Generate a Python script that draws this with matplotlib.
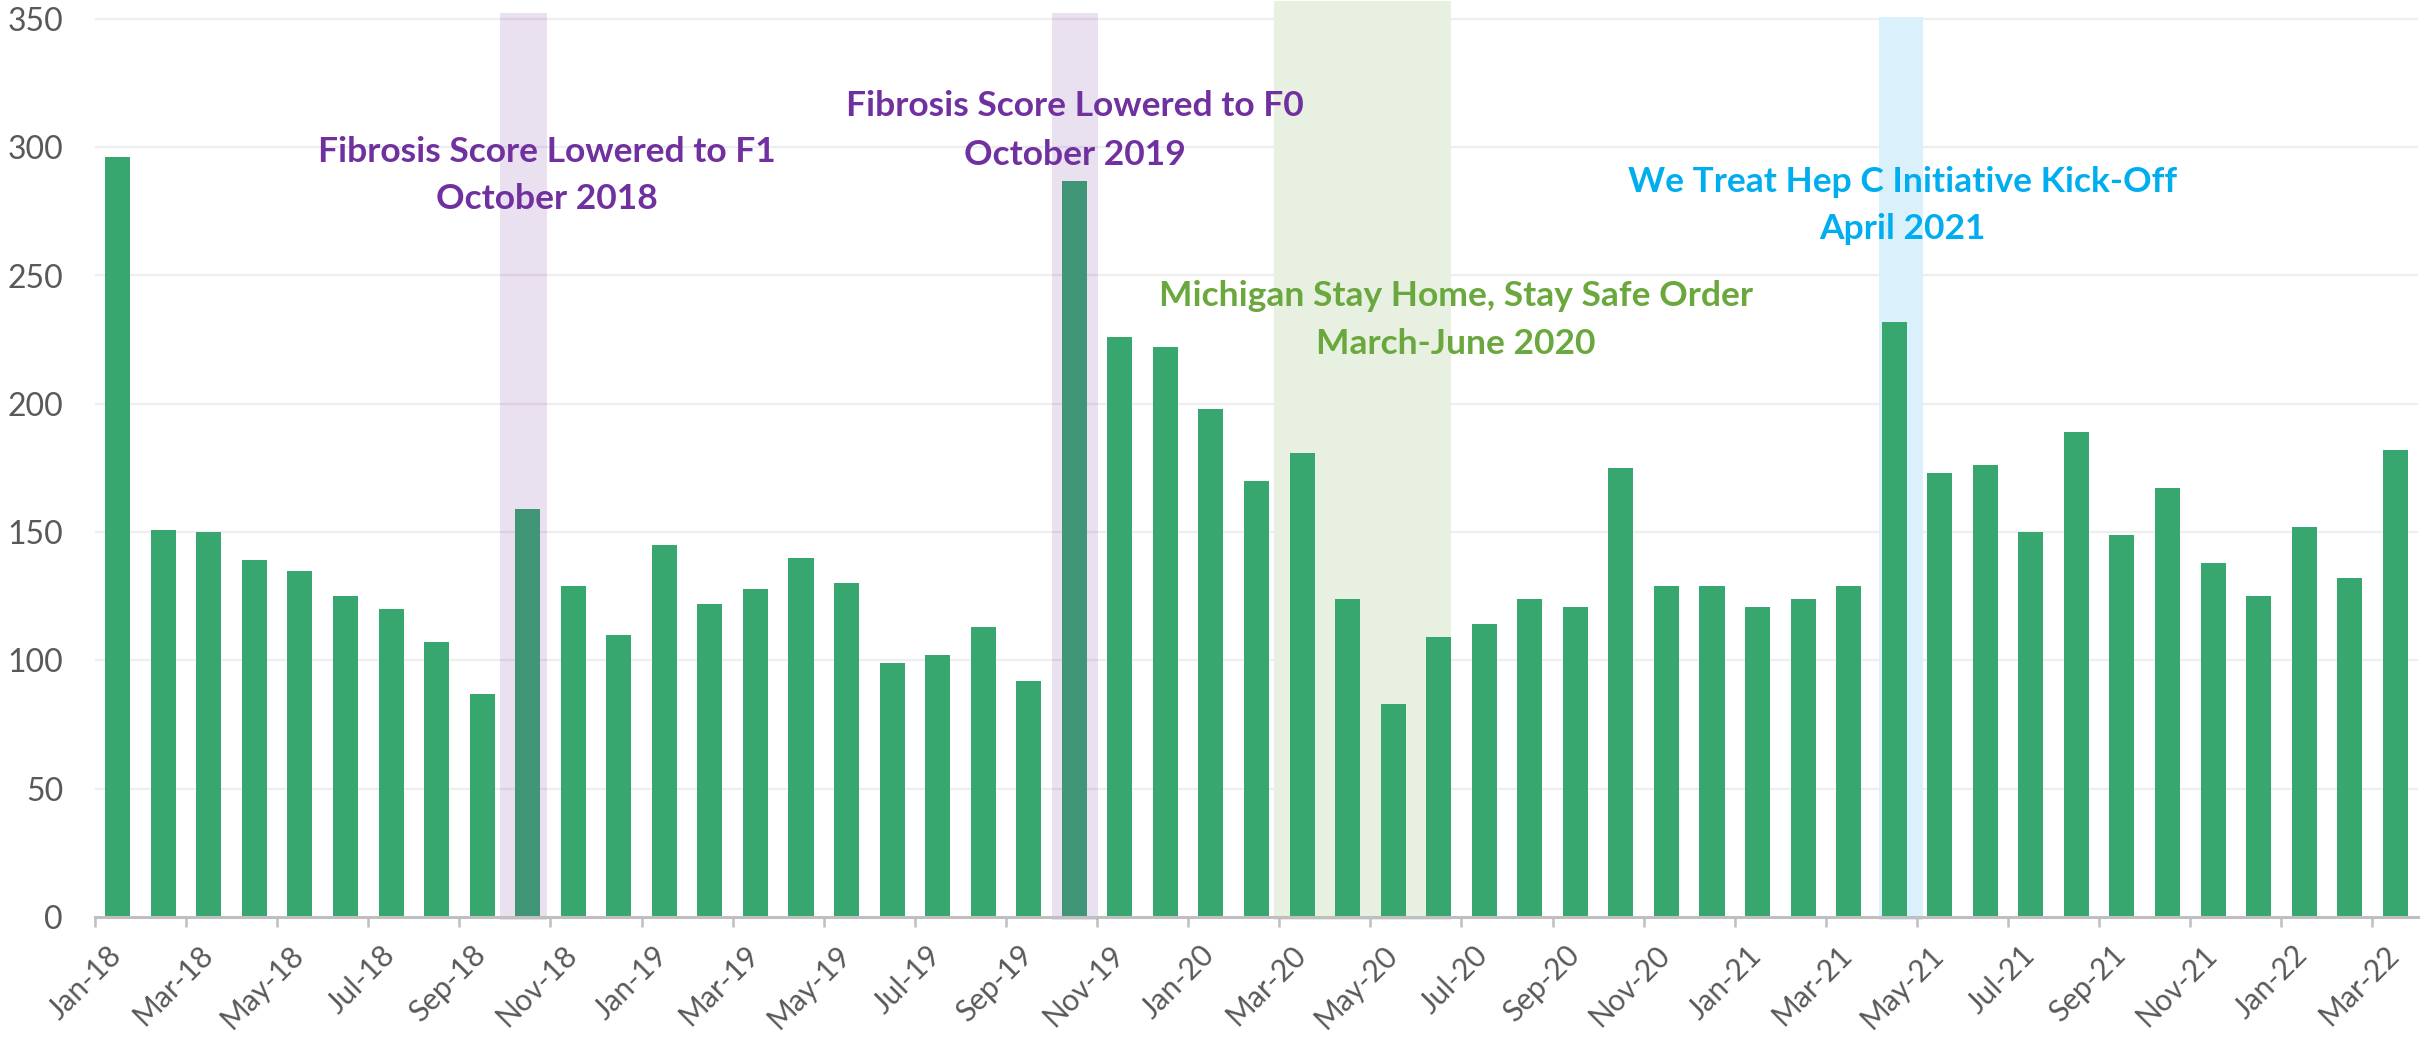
import matplotlib
matplotlib.use("Agg")
import matplotlib.pyplot as plt
from matplotlib import font_manager
import matplotlib.transforms as mtransforms
import numpy as np

# ---------------- data ----------------
months = ["Jan-18","Feb-18","Mar-18","Apr-18","May-18","Jun-18","Jul-18","Aug-18","Sep-18","Oct-18","Nov-18","Dec-18",
          "Jan-19","Feb-19","Mar-19","Apr-19","May-19","Jun-19","Jul-19","Aug-19","Sep-19","Oct-19","Nov-19","Dec-19",
          "Jan-20","Feb-20","Mar-20","Apr-20","May-20","Jun-20","Jul-20","Aug-20","Sep-20","Oct-20","Nov-20","Dec-20",
          "Jan-21","Feb-21","Mar-21","Apr-21","May-21","Jun-21","Jul-21","Aug-21","Sep-21","Oct-21","Nov-21","Dec-21",
          "Jan-22","Feb-22","Mar-22"]
values = [296, 151, 150, 139, 135, 125, 120, 107, 87, 159, 129, 110,
          145, 122, 128, 140, 130, 99, 102, 113, 92, 287, 226, 222,
          198, 170, 181, 124, 83, 109, 114, 124, 121, 175, 129, 129,
          121, 124, 129, 232, 173, 176, 150, 189, 149, 167, 138, 125,
          152, 132, 182]

# highlighted periods: (first month, last month)
highlight_periods = [("Oct-18", "Oct-18"), ("Oct-19", "Oct-19"), ("Mar-20", "Jun-20"), ("Apr-21", "Apr-21")]

annotation_lines = [
    ["Fibrosis Score Lowered to F1", "October 2018"],
    ["Fibrosis Score Lowered to F0", "October 2019"],
    ["Michigan Stay Home, Stay Safe Order", "March-June 2020"],
    ["We Treat Hep C Initiative Kick-Off", "April 2021"],
]
y_ticks = [0, 50, 100, 150, 200, 250, 300, 350]

# ---------------- styling ----------------
available = {f.name for f in font_manager.fontManager.ttflist}
def pick(*names):
    for n in names:
        if n in available:
            return n
    return "DejaVu Sans"

ann_font = pick("Liberation Sans Narrow", "Lato", "Open Sans")
tick_font = pick("Lato", "Open Sans", "DejaVu Sans")

BAR = "#38A76F"
TICK_COLOR = "#595959"
AXIS_GREY = "#BFBFBF"

band_styles = [
    dict(dl=-0.60, dr=0.42, top=352.3, color="#7030A0", alpha=0.15, z=3),
    dict(dl=-0.48, dr=0.51, top=352.3, color="#7030A0", alpha=0.15, z=3),
    dict(dl=-0.62, dr=0.27, top=357.0, color="#E7F0E1", alpha=1.0, z=1),
    dict(dl=-0.33, dr=0.64, top=350.6, color="#DAF0FB", alpha=1.0, z=1),
]
ann_styles = [
    dict(xoff=0.41, y1=294.4, y2=276.0, color="#7030A0"),
    dict(xoff=0.01, y1=312.0, y2=293.2, color="#7030A0"),
    dict(xoff=3.38, y1=238.0, y2=219.5, color="#6AA83E"),
    dict(xoff=0.18, y1=282.7, y2=264.2, color="#00AEEF"),
]
ANN_SIZE = 25.5

W, H = 2436, 1037
fig = plt.figure(figsize=(W / 100, H / 100), dpi=100)
ymax = 357.0
px_per_unit = 128.3 / 50
bottom_px = 917
ax = fig.add_axes([95 / W, 1 - bottom_px / H, (2418 - 95) / W, ymax * px_per_unit / H])

x = np.arange(len(months))
ax.bar(x, values, width=0.55, color=BAR, zorder=2, linewidth=0)

for (m0, m1), st in zip(highlight_periods, band_styles):
    i0, i1 = months.index(m0), months.index(m1)
    ax.fill_between([i0 + st["dl"], i1 + st["dr"]], -1.3, st["top"], color=st["color"],
                    alpha=st["alpha"], zorder=st["z"], linewidth=0, clip_on=False)

for (m0, m1), lines, st in zip(highlight_periods, annotation_lines, ann_styles):
    xc = months.index(m0) + st["xoff"]
    ax.text(xc, st["y1"], lines[0], ha="center", va="baseline", color=st["color"],
            fontsize=ANN_SIZE, fontweight="bold", family=ann_font, zorder=5)
    ax.text(xc, st["y2"], lines[1], ha="center", va="baseline", color=st["color"],
            fontsize=ANN_SIZE, fontweight="bold", family=ann_font, zorder=5)

ax.set_xlim(-0.5, len(months) - 0.5)
ax.set_ylim(0, ymax)

for yv in y_ticks[1:]:
    ax.axhline(yv, color="#EEEEEE", lw=1.6, zorder=0)

for s in ["top", "right", "left"]:
    ax.spines[s].set_visible(False)
ax.spines["bottom"].set_color(AXIS_GREY)
ax.spines["bottom"].set_linewidth(2.2)
ax.spines["bottom"].set_zorder(4)

ax.set_yticks(y_ticks)
ax.set_yticklabels([str(v) for v in y_ticks])
ax.tick_params(axis="y", length=0, pad=23, labelsize=23, labelcolor=TICK_COLOR)

ax.set_xticks(x[::2])
ax.set_xticklabels(months[::2], rotation=45, ha="right")
ax.set_xticks(np.arange(-0.5, len(months) - 1, 2), minor=True)
ax.tick_params(axis="x", which="major", length=0, pad=17, labelsize=21.5, labelcolor=TICK_COLOR)
ax.tick_params(axis="x", which="minor", length=7, width=1.8, color=AXIS_GREY)

shift = mtransforms.ScaledTranslation(9 / 100, 0, fig.dpi_scale_trans)
for lab in ax.get_xticklabels():
    lab.set_transform(lab.get_transform() + shift)

for lab in ax.get_xticklabels() + ax.get_yticklabels():
    lab.set_family(tick_font)
    lab.set_fontweight("normal")

fig.savefig("out.png", dpi=100)
